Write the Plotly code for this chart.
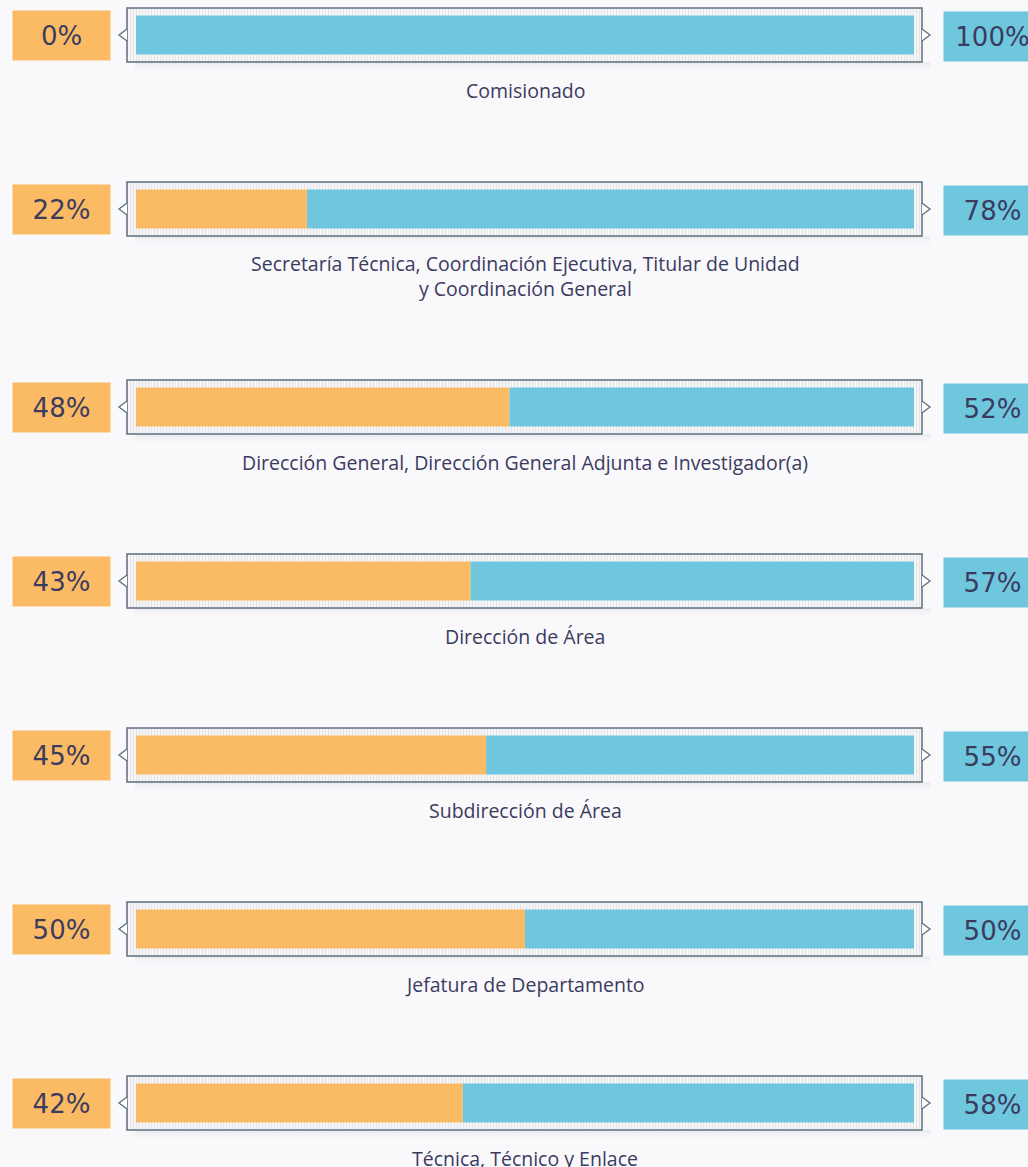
import plotly.graph_objects as go

# ---- data ----
categories = [
    "Comisionado",
    "Secretaría Técnica, Coordinación Ejecutiva, Titular de Unidad<br>y Coordinación General",
    "Dirección General, Dirección General Adjunta e Investigador(a)",
    "Dirección de Área",
    "Subdirección de Área",
    "Jefatura de Departamento",
    "Técnica, Técnico y Enlace",
]
mujeres = [0, 22, 48, 43, 45, 50, 42]
hombres = [100, 78, 52, 57, 55, 50, 58]
left_labels = [f"{v}%" for v in mujeres]
right_labels = [f"{v}%" for v in hombres]

# ---- layout constants (pixels) ----
W, H = 1028, 1167
BAR_L, BAR_R = 136, 914          # pixel extent of 0..100
PX = (BAR_R - BAR_L) / 100.0      # pixels per unit
FIRST_C, PITCH, EXTRA_LINE = 35, 174, 24
LINE_H = 24
ORANGE = "#fbbb64"
BLUE = "#6fc7dd"
TEXT = "#3b3b60"
FRAME = "#5f6e7d"
BG = "#f9f8fb"

# row centres (y axis in pixel units, reversed)
centers = []
extra = 0
for i, cat in enumerate(categories):
    centers.append(FIRST_C + PITCH * i + extra)
    extra += EXTRA_LINE * cat.count("<br>")

fr_l = (127 - BAR_L) / PX
fr_r = (922 - BAR_L) / PX

fig = go.Figure()

# frame with striped background
fig.add_trace(go.Bar(
    y=centers, x=[fr_r - fr_l] * len(centers), base=[fr_l] * len(centers),
    orientation="h", width=54,
    marker=dict(color="#f6f6f8",
                line=dict(color=FRAME, width=1.5),
                pattern=dict(shape="|", size=3, solidity=0.4,
                             fgcolor="#cfcfd6", bgcolor="#f8f8fa")),
    hoverinfo="skip", showlegend=False,
))
fig.add_trace(go.Bar(
    y=centers, x=mujeres, base=[0] * len(centers), orientation="h", width=39,
    marker=dict(color=ORANGE, line=dict(width=0)), name="Mujeres", showlegend=False,
))
fig.add_trace(go.Bar(
    y=centers, x=hombres, base=mujeres, orientation="h", width=39,
    marker=dict(color=BLUE, line=dict(width=0)), name="Hombres", showlegend=False,
))

shapes = []
annotations = []
for i, c in enumerate(centers):
    # soft shadow below frame
    for k, op in enumerate([0.05, 0.035, 0.02]):
        shapes.append(dict(type="rect", xref="paper", yref="y", layer="below",
                           x0=(135) / W, x1=(930) / W, y0=c + 27, y1=c + 30 + 3 * k,
                           fillcolor="#9090a0", opacity=op, line=dict(width=0)))
    # chevrons
    shapes.append(dict(type="path", xref="paper", yref="y",
                       path=f"M {127/W},{c-6} L {119/W},{c} L {127/W},{c+6}",
                       line=dict(color=FRAME, width=1.3), fillcolor="white"))
    shapes.append(dict(type="path", xref="paper", yref="y",
                       path=f"M {922/W},{c-6} L {930/W},{c} L {922/W},{c+6}",
                       line=dict(color=FRAME, width=1.3), fillcolor="white"))
    # percentage boxes
    annotations.append(dict(xref="paper", yref="y", x=12 / W, y=c, xanchor="left",
                            yanchor="middle", text=left_labels[i], showarrow=False,
                            bgcolor=ORANGE, width=95, height=47, align="center",
                            font=dict(family="DejaVu Sans", size=26, color=TEXT)))
    annotations.append(dict(xref="paper", yref="y", x=943 / W, y=c + 1, xanchor="left",
                            yanchor="middle", text=right_labels[i], showarrow=False,
                            bgcolor=BLUE, width=95, height=47, align="center",
                            font=dict(family="DejaVu Sans", size=26, color=TEXT)))
    # category label
    nlines = categories[i].count("<br>") + 1
    annotations.append(dict(xref="paper", yref="y", x=525 / W,
                            y=c + 55 + LINE_H * (nlines - 1) / 2,
                            xanchor="center", yanchor="middle", text=categories[i],
                            showarrow=False, align="center",
                            font=dict(family="Open Sans", size=19.5, color=TEXT)))

fig.update_layout(
    width=W, height=H, margin=dict(l=0, r=0, t=0, b=0),
    paper_bgcolor=BG, plot_bgcolor=BG, barmode="overlay",
    xaxis=dict(range=[-BAR_L / PX, 100 + (W - BAR_R) / PX], visible=False, fixedrange=True),
    yaxis=dict(range=[H, 0], visible=False, fixedrange=True),
    shapes=shapes, annotations=annotations, showlegend=False,
)

fig.write_html("out.html",
               config={"displayModeBar": False, "staticPlot": True},
               post_script="document.body.style.margin='0px';"
                           "document.body.style.background='#f9f8fb';"
                           "document.body.style.overflow='hidden';")
